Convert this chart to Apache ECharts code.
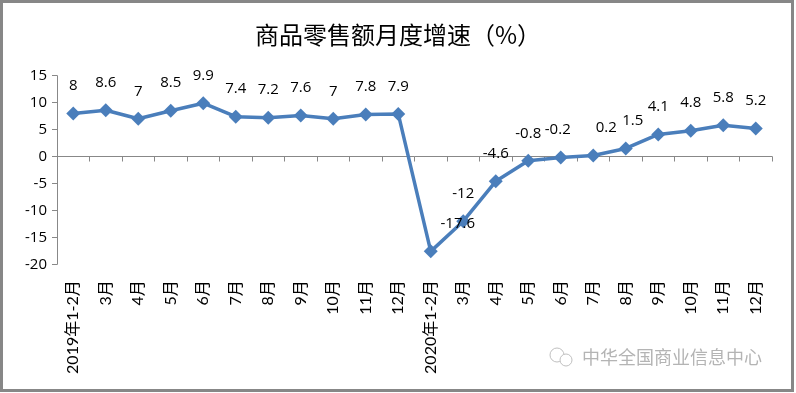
<!DOCTYPE html>
<html>
<head>
<meta charset="utf-8">
<script src="https://cdn.jsdelivr.net/npm/echarts@6/dist/echarts.min.js"></script>
<style>
html,body{margin:0;padding:0;background:#fff;}
#chart{width:796px;height:393px;}
</style>
</head>
<body>
<div id="chart"></div>
<script>
var categories = ['2019年1-2月','3月','4月','5月','6月','7月','8月','9月','10月','11月','12月',
                  '2020年1-2月','3月','4月','5月','6月','7月','8月','9月','10月','11月','12月'];
var growth = [8, 8.6, 7, 8.5, 9.9, 7.4, 7.2, 7.6, 7, 7.8, 7.9,
              -17.6, -12, -4.6, -0.8, -0.2, 0.2, 1.5, 4.1, 4.8, 5.8, 5.2];
var yTicks = [-20, -15, -10, -5, 0, 5, 10, 15];
var titleText = '商品零售额月度增速（%）';
var watermark = '中华全国商业信息中心';

// label nudges as placed in the original chart (index -> [dx, dy])
var labelNudge = {11: [27, 0], 16: [13, 0], 17: [7, 0], 15: [-3, 0]};

var chart = echarts.init(document.getElementById('chart'));
var seriesData = growth.map(function (v, i) {
  var item = {value: v};
  if (labelNudge[i]) item.label = {offset: labelNudge[i]};
  return item;
});

var option = {
  animation: false,
  backgroundColor: '#fff',
  title: {
    text: titleText,
    left: 'center',
    top: 18,
    textStyle: {fontFamily: '"Noto Sans CJK SC"', fontSize: 24, fontWeight: 'normal', color: '#000'}
  },
  grid: {left: 57, right: 24, top: 75.7, bottom: 128.7, containLabel: false, outerBoundsMode: 'none'},
  xAxis: {
    type: 'category',
    data: categories,
    boundaryGap: true,
    axisLine: {onZero: true, lineStyle: {color: '#888888', width: 1}},
    axisTick: {show: true, length: 5, lineStyle: {color: '#888888'}},
    axisLabel: {
      interval: 0, rotate: 90, margin: 16,
      fontFamily: 'Lato, "Noto Sans CJK SC"', fontSize: 16, color: '#000'
    },
    splitLine: {show: false}
  },
  yAxis: {
    type: 'value',
    min: yTicks[0], max: yTicks[yTicks.length - 1], interval: 5,
    axisLine: {show: true, onZero: false, lineStyle: {color: '#888888', width: 1}},
    axisTick: {show: true, length: 5, lineStyle: {color: '#888888'}},
    axisLabel: {margin: 10, fontFamily: '"Open Sans", Lato', fontSize: 15, color: '#000'},
    splitLine: {show: false}
  },
  series: [{
    type: 'line',
    data: seriesData,
    symbol: 'diamond',
    symbolSize: 14,
    lineStyle: {color: '#4a7ebb', width: 3.5},
    itemStyle: {color: '#4a7ebb'},
    label: {
      show: true, position: 'top', distance: 13,
      fontFamily: '"Open Sans", Lato', fontSize: 15, color: '#000'
    }
  }],
  graphic: [
    {type: 'rect', shape: {x: 1.5, y: 1.5, width: 791, height: 389},
     style: {fill: 'none', stroke: '#878787', lineWidth: 3}, z: 100},
    {type: 'text', left: 582, top: 348,
     style: {text: watermark, fontFamily: '"Noto Sans CJK SC"', fontSize: 18, fill: '#b4b4b4'}},
    {type: 'circle', shape: {cx: 557, cy: 355, r: 7}, style: {fill: 'none', stroke: '#c0c0c0', lineWidth: 1}},
    {type: 'circle', shape: {cx: 566, cy: 360, r: 6}, style: {fill: '#fff', stroke: '#c0c0c0', lineWidth: 1}}
  ]
};
chart.setOption(option);
</script>
</body>
</html>
